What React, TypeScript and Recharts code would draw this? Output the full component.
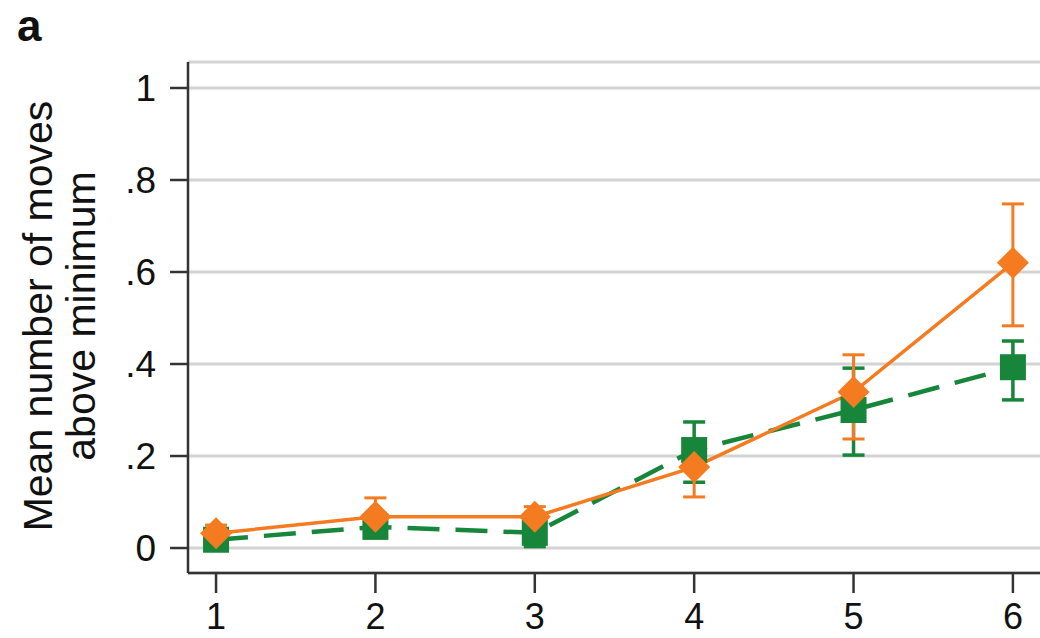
import React from 'react';
import { LineChart, Line, XAxis, YAxis, CartesianGrid, ErrorBar } from 'recharts';

const trials = [1, 2, 3, 4, 5, 6];
const orangeMean = [0.032, 0.068, 0.068, 0.176, 0.339, 0.62];
const orangeLow = [0.015, 0.022, 0.039, 0.111, 0.237, 0.483];
const orangeHigh = [0.05, 0.109, 0.09, 0.224, 0.42, 0.748];
const greenMean = [0.018, 0.046, 0.033, 0.213, 0.3, 0.393];
const greenLow = [0.0, 0.024, 0.003, 0.143, 0.202, 0.322];
const greenHigh = [0.035, 0.075, 0.065, 0.274, 0.391, 0.45];
const yTicks = [0, 0.2, 0.4, 0.6, 0.8, 1];

const ORANGE = '#f47b20';
const GREEN = '#17863a';
const FONT = '"Liberation Sans", Arial, Helvetica, sans-serif';

const data = trials.map((t, i) => ({
  trial: t,
  orange: orangeMean[i],
  orangeErr: [orangeMean[i] - orangeLow[i], orangeHigh[i] - orangeMean[i]],
  green: greenMean[i],
  greenErr: [greenMean[i] - greenLow[i], greenHigh[i] - greenMean[i]],
}));

const fmtY = (v: number) => (v === 0 ? '0' : v === 1 ? '1' : String(v).replace('0.', '.'));

const diamond = (props: any) => {
  const { cx, cy, index } = props;
  const r = 16;
  return (
    <polygon
      key={`dia-${index}`}
      points={`${cx},${cy - r} ${cx + r},${cy} ${cx},${cy + r} ${cx - r},${cy}`}
      fill={ORANGE}
    />
  );
};

const square = (props: any) => {
  const { cx, cy, index } = props;
  const s = 26;
  return <rect key={`sq-${index}`} x={cx - s / 2} y={cy - s / 2} width={s} height={s} fill={GREEN} />;
};

// y title (two lines, rotated) plus the panel letter
const YTitle = () => (
  <g fontFamily={FONT} fill="#111">
    <text x={17} y={41} fontSize={44} fontWeight="bold">a</text>
    <text x={52} y={316} fontSize={41} textAnchor="middle" transform="rotate(-90, 52, 316)">
      Mean number of moves
    </text>
    <text x={95} y={316} fontSize={41} textAnchor="middle" transform="rotate(-90, 95, 316)">
      above minimum
    </text>
  </g>
);

export default function App() {
  return (
    <div style={{ position: 'absolute', left: 0, top: 0, background: '#fff' }}>
      <LineChart width={1040} height={638} data={data} margin={{ top: 62, right: 0, bottom: 0, left: 0 }}>
        <CartesianGrid vertical={false} stroke="#d3d3d3" strokeWidth={3} />
        <XAxis
          type="number"
          dataKey="trial"
          domain={[0.824, 6.17]}
          ticks={trials}
          allowDataOverflow
          height={65}
          tickSize={20}
          tickMargin={10}
          axisLine={{ stroke: '#333', strokeWidth: 2.5 }}
          tickLine={{ stroke: '#333', strokeWidth: 2.5 }}
          tick={{ fill: '#111', fontSize: 36, fontFamily: FONT }}
        />
        <YAxis
          type="number"
          domain={[-0.0543, 1.0565]}
          ticks={yTicks}
          allowDataOverflow
          width={188}
          tickSize={18}
          tickMargin={14}
          tickFormatter={fmtY}
          axisLine={{ stroke: '#333', strokeWidth: 2.5 }}
          tickLine={{ stroke: '#333', strokeWidth: 2.5 }}
          tick={{ fill: '#111', fontSize: 37, fontFamily: FONT }}
          label={{ content: () => <YTitle /> }}
        />
        <Line
          dataKey="green"
          stroke={GREEN}
          strokeWidth={4.5}
          strokeDasharray="32 16"
          dot={square}
          activeDot={false}
          isAnimationActive={false}
        >
          <ErrorBar dataKey="greenErr" direction="y" width={11} strokeWidth={3.5} stroke={GREEN} />
        </Line>
        <Line
          dataKey="orange"
          stroke={ORANGE}
          strokeWidth={3.5}
          dot={diamond}
          activeDot={false}
          isAnimationActive={false}
        >
          <ErrorBar dataKey="orangeErr" direction="y" width={11} strokeWidth={3} stroke={ORANGE} />
        </Line>
      </LineChart>
    </div>
  );
}
